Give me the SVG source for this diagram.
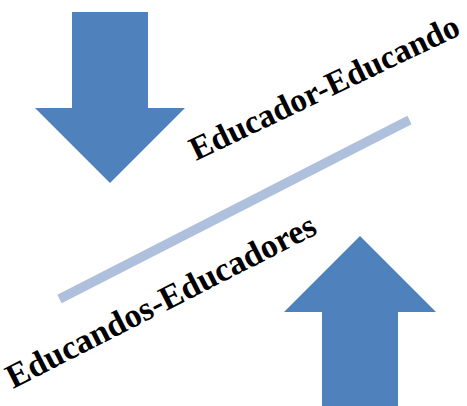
<svg xmlns="http://www.w3.org/2000/svg" width="467" height="406" viewBox="0 0 467 406">
<style>
.arrow{fill:#4f81bd}
.lbl{font-family:"Liberation Serif","Times New Roman",serif;font-weight:bold;font-size:34px;fill:#000}
</style>
<rect width="467" height="406" fill="#fff"/>
<g id="arrow-down"><polygon class="arrow" points="72,12 148,12 148,108 185,108 110,183 35,108 72,108"/></g>
<g id="arrow-up"><polygon class="arrow" points="360,236 436,312 398,312 398,406 322,406 322,312 284,312"/></g>
<g id="connectors"><line x1="59.5" y1="299" x2="409.5" y2="120" stroke="#aec0dc" stroke-width="9.5"/></g>
<g id="label-top"><text class="lbl" transform="translate(196,161) rotate(-25.5)" style="font-size:33.3px">Educador-Educando</text></g>
<g id="label-bottom"><text class="lbl" transform="translate(13,389) rotate(-27)">Educandos-Educadores</text></g>
</svg>
